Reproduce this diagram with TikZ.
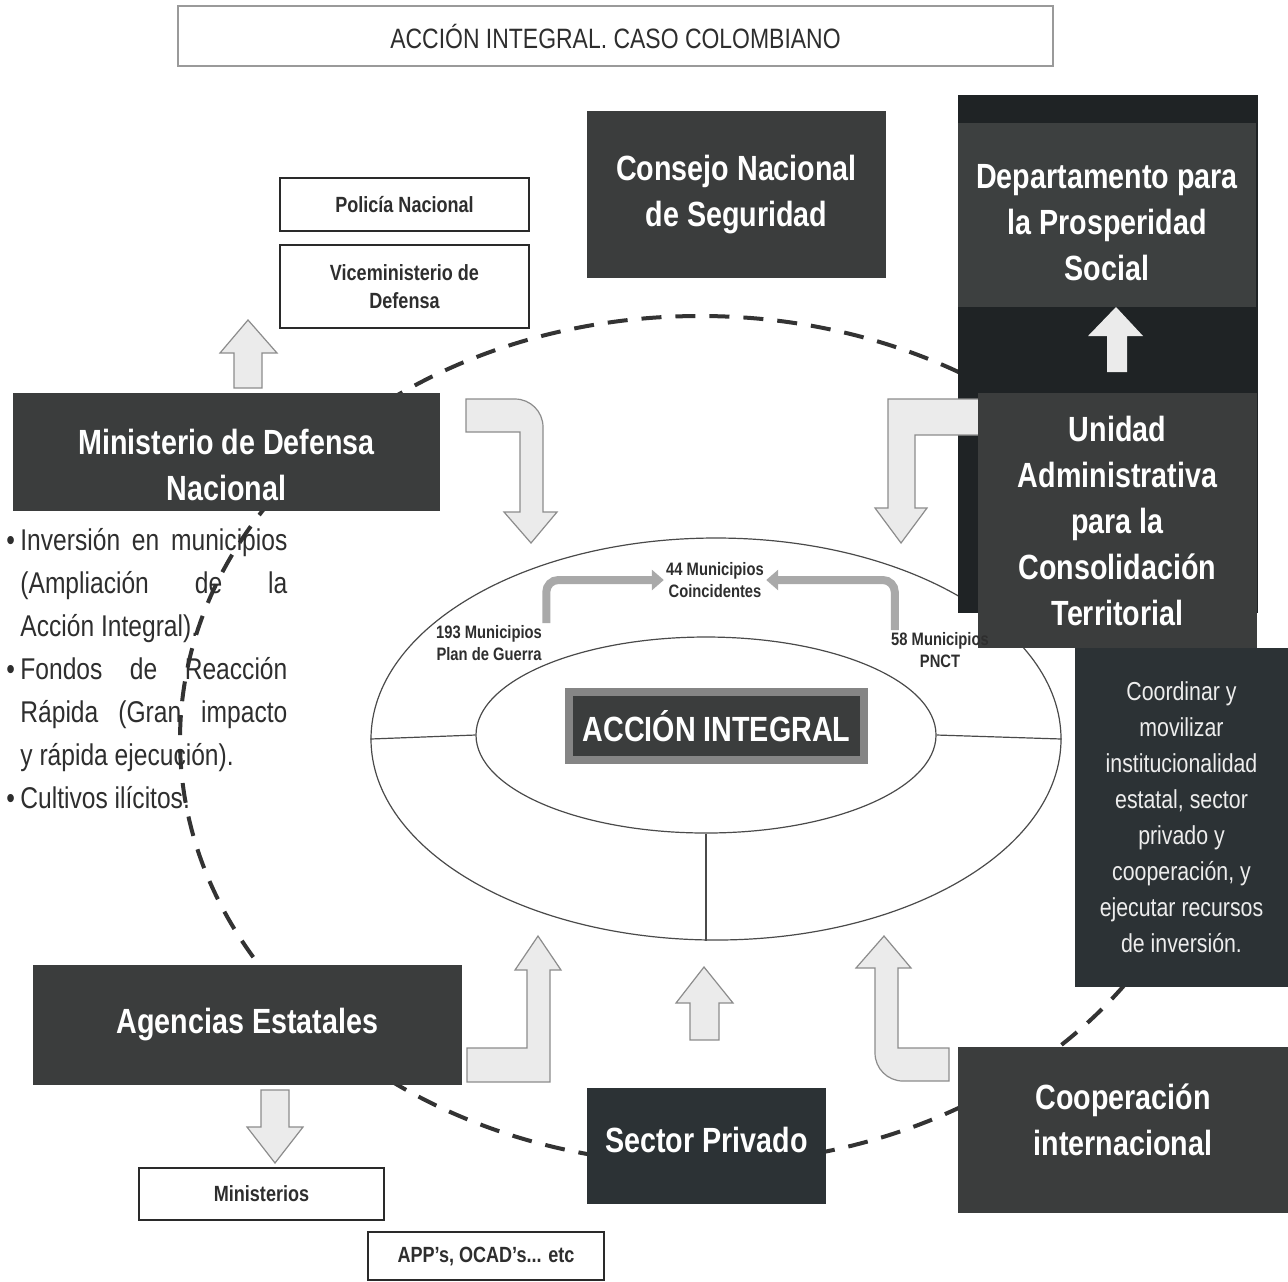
\documentclass[tikz,border=0pt]{standalone}
\usepackage{fontspec}
\setmainfont{Liberation Sans}[FakeStretch=0.82]
\usetikzlibrary{arrows.meta,positioning,shapes.geometric}
\definecolor{caja}{HTML}{3B3D3D}
\definecolor{cajaclara}{HTML}{3D4040}
\definecolor{columna}{HTML}{1F2325}
\definecolor{cajaazul}{HTML}{2C3235}
\definecolor{marco}{HTML}{858585}
\definecolor{borde}{HTML}{2A2A2A}
\definecolor{texto}{HTML}{2E2E2E}
\definecolor{textoclaro}{HTML}{EDEDED}
\definecolor{relleno}{HTML}{EBEBEB}
\definecolor{contorno}{HTML}{8C8C8C}
\definecolor{linea}{HTML}{4A4A4A}
\definecolor{guion}{HTML}{333333}
\definecolor{tubocolor}{HTML}{A9A9A9}
\definecolor{gris}{HTML}{9A9A9A}

\begin{document}
\begin{tikzpicture}[x=0.5pt,y=-0.5pt,
  oscura/.style={fill=caja,text=white,align=center,inner sep=0pt,font=\fontsize{17.5}{23}\selectfont\bfseries},
  blanca/.style={draw=borde,line width=1pt,fill=white,align=center,inner sep=0pt,text=texto,font=\fontsize{11}{14}\selectfont\bfseries},
  bloque/.style={draw=contorno,fill=relleno,line width=0.6pt},
  fina/.style={draw=linea,line width=0.6pt},
  municipio/.style={align=center,inner sep=1pt,text=texto,font=\fontsize{9}{11}\selectfont\bfseries},
  tubo/.style={draw=tubocolor,line width=4pt,rounded corners=6pt,-{Triangle[length=6pt,width=10pt]}},
  anillo/.style={ellipse,draw=guion,line width=2pt,dash pattern=on 10pt off 7pt,inner sep=0pt},
  lista/.style={text width=140.5pt,align=justify,inner sep=0pt,text=texto,font=\fontsize{15}{21.5}\selectfont}]
  \useasboundingbox (0,0) rectangle (1288,1281);
  \fill[white] (0,0) rectangle (1288,1281);

  \node[draw=gris,line width=1pt,minimum width=437.5pt,minimum height=30pt,text=texto,
    font=\fontsize{14}{16}\selectfont] (titulo) at (615.5,36) {ACCIÓN INTEGRAL. CASO COLOMBIANO};

  % anillo punteado y elipses
  \node[anillo,minimum width=520pt,minimum height=424pt] (anillo) at (700,740) {};
  \node[ellipse,fina,minimum width=345pt,minimum height=201pt,inner sep=0pt] (externa) at (716,739) {};
  \node[ellipse,fina,minimum width=230pt,minimum height=98pt,inner sep=0pt] (interna) at (706,735) {};
  \draw[fina] (externa.west) -- (interna.west);
  \draw[fina] (interna.east) -- (externa.east);
  \draw[fina] (interna.south) -- (interna.south |- externa.south);

  % columna derecha
  \fill[columna] (958,95) rectangle (1258,613);
  \node[oscura,fill=cajaclara,minimum width=149pt,minimum height=92pt] (depto) at (1107,215) {\rule{0pt}{20pt}Departamento para\\la Prosperidad\\Social};
  \fill[relleno] (1107,372) -- (1107,336) -- (1088,336) -- (1116,307) -- (1143,336) -- (1127,336) -- (1127,372) -- cycle;
  \draw[bloque] (985,399) -- (888,399) -- (888,508) -- (875,508) -- (901,543) -- (927,508) -- (915,508) -- (915,435) -- (985,435) -- cycle;
  \node[oscura,minimum width=139.5pt,minimum height=127.5pt] (unidad) at (1117.5,520.5) {Unidad\\Administrativa\\para la\\Consolidación\\Territorial};
  \node[oscura,fill=cajaazul,minimum width=106.5pt,minimum height=169.5pt,text=textoclaro,
    font=\fontsize{13}{18}\selectfont] (coordinar) at (1181.5,817.5) {Coordinar y\\movilizar\\institucionalidad\\estatal, sector\\privado y\\cooperación, y\\ejecutar recursos\\de inversión.};

  \node[oscura,minimum width=149.5pt,minimum height=83.5pt] (consejo) at (736.5,194.5) {Consejo Nacional\\de Seguridad\rule[-4pt]{0pt}{4pt}};

  % ministerio de defensa
  \node[blanca,minimum width=124.5pt,minimum height=26.5pt] (policia) at (404.5,204.5) {Policía Nacional};
  \node[blanca,minimum width=124.5pt,minimum height=41.5pt,below=6pt of policia] (vice) {Viceministerio de\\Defensa};
  \node[oscura,minimum width=213.5pt,minimum height=59pt] (mindef) at (226.5,452) {\rule{0pt}{26pt}Ministerio de Defensa\\Nacional};
  \draw[bloque] (234,388) -- (234,353) -- (220,353) -- (248,320) -- (277,353) -- (262,353) -- (262,388) -- cycle;
  \draw[bloque] (466,432) -- (466,399) -- (515,399) arc[start angle=90,end angle=0,radius=14pt] -- (543,512) -- (557,512) -- (531,543) -- (504,512) -- (520,512) -- (520,432) -- cycle;
  \node[lista,anchor=north west] (lista) at (6,528) {\hyphenpenalty=10000\tolerance=9999
    \hangindent=7pt\hangafter=1\noindent\makebox[7pt][l]{•}Inversión en municipios\linebreak (Ampliación de la\linebreak Acción Integral).\par
    \hangindent=7pt\hangafter=1\noindent\makebox[7pt][l]{•}Fondos de Reacción\linebreak Rápida (Gran impacto\linebreak y rápida ejecución).\par
    \hangindent=7pt\hangafter=1\noindent\makebox[7pt][l]{•}Cultivos ilícitos.\par};

  % centro
  \node[oscura,draw=marco,line width=4pt,minimum width=147.5pt,minimum height=34pt] (accion) at (716.5,726) {ACCIÓN INTEGRAL};
  \node[municipio] (m44) at (715,580) {44 Municipios\\Coincidentes};
  \node[municipio] (m193) at (489,643) {193 Municipios\\Plan de Guerra};
  \node[municipio] (m58) at (940,650) {58 Municipios\\PNCT};
  \draw[tubo] ([xshift=1pt]m193.north east) |- (m44.west);
  \draw[tubo] ([xshift=3pt]m58.north west) |- (m44.east);

  % parte inferior
  \node[oscura,minimum width=214.5pt,minimum height=60pt] (agencias) at (247.5,1025) {Agencias Estatales\rule[-4pt]{0pt}{4pt}};
  \draw[bloque] (261,1090) -- (289,1090) -- (289,1127) -- (303,1127) -- (275,1163) -- (247,1127) -- (261,1127) -- cycle;
  \node[blanca,minimum width=122.5pt,minimum height=26pt] (ministerios) at (261.5,1194) {Ministerios};
  \node[blanca,minimum width=118pt,minimum height=24pt] (apps) at (486,1256) {APP’s, OCAD’s... etc};
  \draw[bloque] (467,1082) -- (467,1048) -- (527,1048) -- (527,970) -- (515,970) -- (538,936) -- (561,970) -- (550,970) -- (550,1082) -- cycle;
  \draw[bloque] (690,1040) -- (690,1003) -- (676,1003) -- (704,967) -- (733,1003) -- (719,1003) -- (719,1040) -- cycle;
  \draw[bloque] (949,1048) -- (898,1048) -- (898,968) -- (911,968) -- (884,936) -- (856,968) -- (875,968) -- (875,1053) arc[start angle=180,end angle=270,radius=14pt] -- (949,1081) -- cycle;
  \node[oscura,fill=cajaazul,minimum width=119.5pt,minimum height=58pt] (sector) at (706.5,1146) {Sector Privado\rule[-6pt]{0pt}{6pt}};
  \node[oscura,minimum width=165pt,minimum height=83pt] (coop) at (1123,1130) {Cooperación\\internacional\rule[-10pt]{0pt}{10pt}};
\end{tikzpicture}
\end{document}
